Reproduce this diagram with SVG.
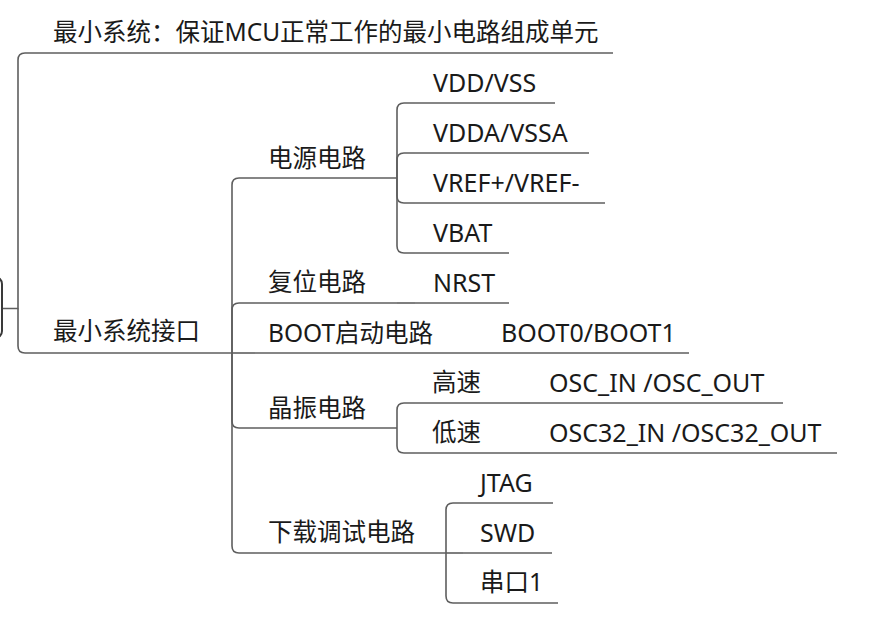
<svg xmlns="http://www.w3.org/2000/svg" width="892" height="640" viewBox="0 0 892 640">
<style>
text{font-family:"Noto Sans","Noto Sans CJK SC",sans-serif;font-size:24.5px;fill:#1a1a1a}
text.lat{font-size:25px}
.ln{fill:none;stroke:#5e5e5e;stroke-width:1.6}
</style>
<rect x="0" y="0" width="892" height="640" fill="#ffffff"/>
<g id="connectors" class="ln">
<path d="M2,308.5 H18 V60 Q18,53 25,53 H40"/>
<path d="M18,308.5 V346 Q18,353 25,353 H40"/>
<path d="M232,353 V185 Q232,178 239,178 H255"/>
<path d="M232,353 V310 Q232,303 239,303 H255"/>
<path d="M232,353 H255"/>
<path d="M232,353 V421 Q232,428 239,428 H255"/>
<path d="M232,353 V546 Q232,553 239,553 H255"/>
<path d="M397,178 V110 Q397,103 404,103 H415"/>
<path d="M397,178 V160 Q397,153 404,153 H415"/>
<path d="M397,178 V196 Q397,203 404,203 H415"/>
<path d="M397,178 V246 Q397,253 404,253 H415"/>
<path d="M397,303 H415"/>
<path d="M445,353 H480"/>
<path d="M397,428 V410 Q397,403 404,403 H415"/>
<path d="M397,428 V446 Q397,453 404,453 H415"/>
<path d="M520,403 H530"/>
<path d="M520,453 H530"/>
<path d="M446,553 V510 Q446,503 453,503 H463"/>
<path d="M446,553 H463"/>
<path d="M446,553 V596 Q446,603 453,603 H463"/>
</g>
<g id="root"><rect x="-40" y="277" width="42" height="61" rx="7" fill="#ffffff" stroke="#3a3a3a" stroke-width="2"/></g>
<g id="n-def"><text x="53" y="41">最小系统：保证MCU正常工作的最小电路组成单元</text><path class="ln" d="M40,53 H613"/></g>
<g id="n-iface"><text x="53" y="340">最小系统接口</text><path class="ln" d="M40,353 H232"/></g>
<g id="n-power"><text x="268" y="166.5">电源电路</text><path class="ln" d="M255,178 H397"/></g>
<g id="n-vdd"><text class="lat" x="433" y="91.5">VDD/VSS</text><path class="ln" d="M415,103 H555"/></g>
<g id="n-vdda"><text class="lat" x="433" y="141.5">VDDA/VSSA</text><path class="ln" d="M415,153 H589"/></g>
<g id="n-vref"><text class="lat" x="433" y="191.5">VREF+/VREF-</text><path class="ln" d="M415,203 H605"/></g>
<g id="n-vbat"><text class="lat" x="433" y="241.5">VBAT</text><path class="ln" d="M415,253 H509"/></g>
<g id="n-reset"><text x="268" y="291">复位电路</text><path class="ln" d="M255,303 H397"/></g>
<g id="n-nrst"><text class="lat" x="433" y="291.5">NRST</text><path class="ln" d="M415,303 H509"/></g>
<g id="n-boot"><text x="268" y="342">BOOT启动电路</text><path class="ln" d="M255,353 H445"/></g>
<g id="n-boot01"><text class="lat" x="501" y="341.5">BOOT0/BOOT1</text><path class="ln" d="M480,353 H689"/></g>
<g id="n-osc"><text x="268" y="416.5">晶振电路</text><path class="ln" d="M255,428 H397"/></g>
<g id="n-hs"><text x="432" y="391">高速</text><path class="ln" d="M415,403 H520"/></g>
<g id="n-hsosc"><text class="lat" x="549" y="391.5">OSC_IN /OSC_OUT</text><path class="ln" d="M530,403 H783"/></g>
<g id="n-ls"><text x="432" y="441">低速</text><path class="ln" d="M415,453 H520"/></g>
<g id="n-lsosc"><text class="lat" x="549" y="441.5">OSC32_IN /OSC32_OUT</text><path class="ln" d="M530,453 H837"/></g>
<g id="n-debug"><text x="268" y="541">下载调试电路</text><path class="ln" d="M255,553 H446"/></g>
<g id="n-jtag"><text class="lat" x="480" y="491.5">JTAG</text><path class="ln" d="M463,503 H553"/></g>
<g id="n-swd"><text class="lat" x="480" y="541.5">SWD</text><path class="ln" d="M463,553 H552"/></g>
<g id="n-uart"><text x="480" y="591">串口1</text><path class="ln" d="M463,603 H558"/></g>
</svg>
